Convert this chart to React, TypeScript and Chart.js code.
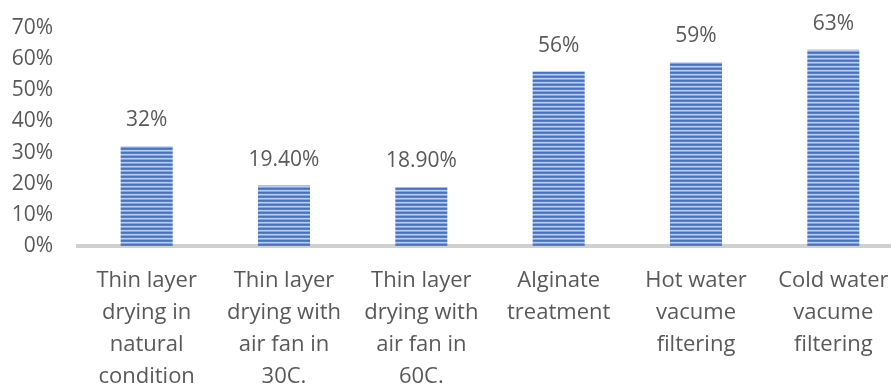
import React, { useEffect, useRef } from "react";
import { Chart, registerables } from "chart.js";

Chart.register(...registerables);

// Drying / filtering method categories (multi-line axis labels)
const categories: string[][] = [
  ["Thin layer", "drying in", "natural", "condition"],
  ["Thin layer", "drying with", "air fan in", "30C."],
  ["Thin layer", "drying with", "air fan in", "60C."],
  ["Alginate", "treatment"],
  ["Hot water", "vacume", "filtering"],
  ["Cold water", "vacume", "filtering"],
];

// Share per method, in percent
const values: number[] = [32, 19.4, 18.9, 56, 59, 63];
// Decimal places shown in each value label
const labelDecimals: number[] = [0, 2, 2, 0, 0, 0];

// Y-axis range and step, in percent
const yMax = 70;
const yStep = 10;

const TEXT_COLOR = "#595959";
const FONT_FAMILY = "'Open Sans', Lato, sans-serif";
const TICK_SIZE = 21;
const LABEL_SIZE = 22;

// Horizontal stripe fill for the bars
function makeStripePattern(ctx: CanvasRenderingContext2D): CanvasPattern | string {
  const c = document.createElement("canvas");
  c.width = 8;
  c.height = 4;
  const p = c.getContext("2d");
  if (!p) return "#4472C4";
  const rows = ["#4472C4", "#5580CB", "#B9CCEC", "#86A5DD"];
  rows.forEach((col, i) => {
    p.fillStyle = col;
    p.fillRect(0, i, 8, 1);
  });
  return ctx.createPattern(c, "repeat") || "#4472C4";
}

const valueLabelPlugin = {
  id: "valueLabels",
  afterDatasetsDraw(chart: Chart) {
    const { ctx } = chart;
    const meta = chart.getDatasetMeta(0);
    ctx.save();
    ctx.fillStyle = TEXT_COLOR;
    ctx.font = `${TICK_SIZE}px ${FONT_FAMILY}`;
    ctx.textAlign = "center";
    ctx.textBaseline = "alphabetic";
    meta.data.forEach((bar: any, i: number) => {
      const text = values[i].toFixed(labelDecimals[i]) + "%";
      ctx.fillText(text, bar.x, bar.y - 20);
    });
    ctx.restore();
  },
};

export default function App() {
  const canvasRef = useRef<HTMLCanvasElement | null>(null);

  useEffect(() => {
    document.body.style.margin = "0";
    document.body.style.overflow = "hidden";
    const canvas = canvasRef.current;
    if (!canvas) return;
    const ctx = canvas.getContext("2d");
    if (!ctx) return;
    const pattern = makeStripePattern(ctx);

    const chart = new Chart(canvas, {
      type: "bar",
      data: {
        labels: categories,
        datasets: [
          {
            data: values,
            backgroundColor: pattern as any,
            borderWidth: 0,
            barPercentage: 0.379,
            categoryPercentage: 1,
          },
        ],
      },
      options: {
        animation: false,
        responsive: false,
        devicePixelRatio: 1,
        layout: { padding: { top: 28, left: 0, right: 0, bottom: 0 } },
        plugins: {
          legend: { display: false },
          tooltip: { enabled: false },
        },
        scales: {
          x: {
            z: 1,
            grid: { display: false, drawTicks: false },
            border: { display: true, color: "#D0D0D0", width: 4 },
            ticks: {
              color: TEXT_COLOR,
              font: { family: FONT_FAMILY, size: LABEL_SIZE, lineHeight: 32 / LABEL_SIZE },
              padding: 19,
              maxRotation: 0,
              minRotation: 0,
              autoSkip: false,
            },
            afterFit: (scale: any) => {
              scale.height = 140;
              scale.paddingLeft = 0;
              scale.paddingRight = 0;
            },
          },
          y: {
            min: 0,
            max: yMax,
            grid: { display: false, drawTicks: false },
            border: { display: false },
            ticks: {
              stepSize: yStep,
              color: TEXT_COLOR,
              font: { family: FONT_FAMILY, size: TICK_SIZE },
              padding: 25,
              callback: (v: any) => `${Math.round(Number(v))}%`,
            },
            afterFit: (scale: any) => {
              scale.width = 78;
              scale.paddingTop = 0;
              scale.paddingBottom = 0;
            },
          },
        },
      },
      plugins: [valueLabelPlugin],
    });

    return () => chart.destroy();
  }, []);

  return (
    <div style={{ width: 902, height: 386, overflow: "visible" }}>
      <canvas ref={canvasRef} width={902} height={386} style={{ display: "block" }} />
    </div>
  );
}
